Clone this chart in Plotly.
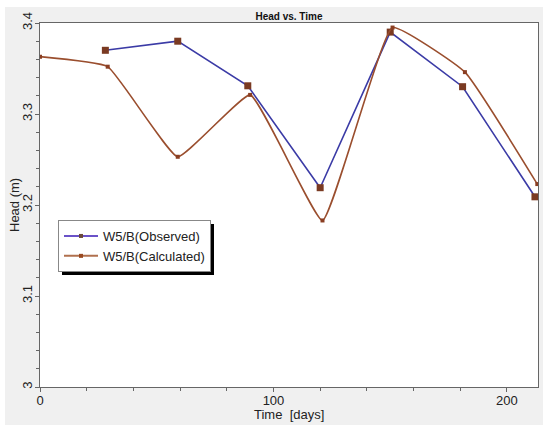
import plotly.graph_objects as go

# Data
obs_days = [28, 59, 89, 120, 150, 181, 212]
obs_head = [3.370, 3.380, 3.331, 3.219, 3.390, 3.330, 3.209]
calc_days = [0, 29, 59, 90, 121, 151, 182, 213]
calc_head = [3.363, 3.352, 3.253, 3.321, 3.183, 3.395, 3.346, 3.223]

x_ticks = [0, 100, 200]
y_ticks = [3.0, 3.1, 3.2, 3.3, 3.4]
y_labels = ["3", "3.1", "3.2", "3.3", "3.4"]

W, H = 550, 428
L, R, T, B = 40, 12, 23, 41
pw, ph = W - L - R, H - T - B

OBS_LINE, OBS_MK = "#3b3ba6", "#7a3a22"
CALC_LINE, CALC_MK = "#9a4e2e", "#8a3e22"

fig = go.Figure()
fig.add_trace(go.Scatter(
    x=obs_days, y=obs_head, mode="lines+markers", name="W5/B(Observed)",
    line=dict(color=OBS_LINE, width=1.6),
    marker=dict(symbol="square", size=7, color=OBS_MK), showlegend=False,
))
fig.add_trace(go.Scatter(
    x=calc_days, y=calc_head, mode="lines+markers", name="W5/B(Calculated)",
    line=dict(color=CALC_LINE, width=1.6, shape="spline", smoothing=0.35),
    marker=dict(symbol="square", size=4, color=CALC_MK), showlegend=False,
))
# legend entries (small symbols like the reference)
fig.add_trace(go.Scatter(
    x=[None], y=[None], mode="lines+markers", name="W5/B(Observed)",
    line=dict(color="#6a52c8", width=2), marker=dict(symbol="square", size=4, color="#6b4a3a"),
))
fig.add_trace(go.Scatter(
    x=[None], y=[None], mode="lines+markers", name="W5/B(Calculated)",
    line=dict(color="#b0704e", width=2), marker=dict(symbol="square", size=4, color="#9a4a22"),
))

def px(xp, yp):
    return (xp - L) / pw, (H - B - yp) / ph

# white outer frame around grey panel
fx0, fy0 = px(0, 0)
fx1, fy1 = px(W, H)
gx0, gy0 = px(5, 7)
gx1, gy1 = px(543, 425)
white = dict(fillcolor="white", line=dict(width=0), layer="above", xref="paper", yref="paper", type="rect")
shapes = [
    dict(**white, x0=fx0, x1=gx0, y0=fy1, y1=fy0),
    dict(**white, x0=gx1, x1=fx1, y0=fy1, y1=fy0),
    dict(**white, x0=fx0, x1=fx1, y0=gy0, y1=fy0),
    dict(**white, x0=fx0, x1=fx1, y0=fy1, y1=gy1),
]
# legend shadow
lx0, ly0 = px(62, 224)
lx1, ly1 = px(214, 275)
shapes.append(dict(type="rect", xref="paper", yref="paper", x0=lx0, y0=ly1, x1=lx1, y1=ly0,
                   fillcolor="black", line=dict(width=0), layer="above"))
fig.update_layout(shapes=shapes)

# axis titles as annotations for exact placement
ax_t_x, ax_t_y = px(289, 414)
ay_t_x, ay_t_y = px(14, 205)
fig.update_layout(annotations=[
    dict(text="Time  [days]", xref="paper", yref="paper", x=ax_t_x, y=ax_t_y,
         xanchor="center", yanchor="middle", showarrow=False, font=dict(size=13, color="#222")),
    dict(text="Head (m)", xref="paper", yref="paper", x=ay_t_x, y=ay_t_y, textangle=-90,
         xanchor="center", yanchor="middle", showarrow=False, font=dict(size=13, color="#222")),
])

lgx, lgy = px(58, 220)
fig.update_layout(
    width=W, height=H,
    margin=dict(l=L, r=R, t=T, b=B, autoexpand=False),
    paper_bgcolor="#f0f0f0", plot_bgcolor="white",
    font=dict(family="Arial, Liberation Sans", size=13, color="#222"),
    title=dict(text="<b>Head vs. Time</b>", font=dict(size=10, color="#111"),
               x=289 / W, xanchor="center", y=1 - 16 / H, yanchor="middle"),
    showlegend=True,
    legend=dict(x=lgx, y=lgy, xanchor="left", yanchor="top",
                bgcolor="white", bordercolor="#888", borderwidth=1,
                font=dict(size=13, color="#222"), tracegroupgap=0,
                itemwidth=34, indentation=0),
    xaxis=dict(range=[0, 213.3], tickvals=x_ticks, ticks="outside", ticklen=4,
               tickcolor="#666", showline=True, linecolor="#666", mirror=True,
               showgrid=False, zeroline=False, automargin=False, ticklabelstandoff=-3,
               minor=dict(dtick=20, ticks="outside", ticklen=3, tickcolor="#666")),
    yaxis=dict(range=[3.0, 3.4], tickvals=y_ticks, ticktext=y_labels,
               tickangle=-90, ticks="outside", ticklen=4, tickcolor="#666",
               showline=True, linecolor="#666", mirror=True,
               showgrid=False, zeroline=False, automargin=False, ticklabelstandoff=-2,
               minor=dict(dtick=0.02, ticks="outside", ticklen=3, tickcolor="#666")),
)

fig.write_html("out.html", config={"displayModeBar": False},
               post_script="document.body.style.margin='0';document.body.style.overflow='hidden';")
